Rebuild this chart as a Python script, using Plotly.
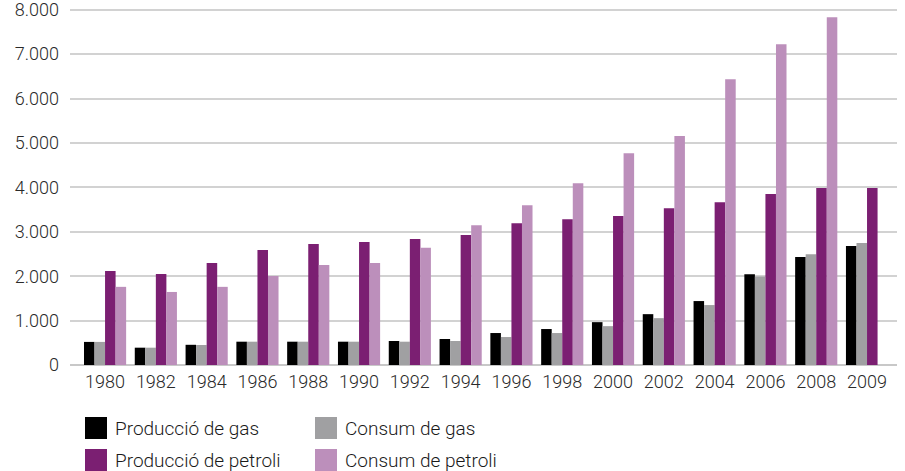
import plotly.graph_objects as go

years = ["1980", "1982", "1984", "1986", "1988", "1990", "1992", "1994",
         "1996", "1998", "2000", "2002", "2004", "2006", "2008", "2009"]
prod_gas = [520, 390, 455, 525, 525, 525, 540, 585, 720, 810, 965, 1145, 1440, 2045, 2430, 2680]
cons_gas = [520, 390, 450, 525, 525, 525, 525, 540, 630, 720, 875, 1055, 1350, 1995, 2495, 2745]
prod_pet = [2115, 2050, 2295, 2590, 2725, 2770, 2835, 2925, 3195, 3285, 3355, 3530, 3665, 3850, 3985, 3985]
cons_pet = [1760, 1645, 1760, 2005, 2250, 2295, 2640, 3150, 3600, 4095, 4770, 5155, 6435, 7225, 7830, None]

names = ["Producció de gas", "Consum de gas", "Producció de petroli", "Consum de petroli"]
colors = ["#000000", "#a0a0a2", "#7b1f72", "#bc8fbb"]
series = [prod_gas, cons_gas, prod_pet, cons_pet]

W, H = 905, 471
ML, MR, MT, MB = 70, 8, 8, 106
PW, PH = W - ML - MR, H - MT - MB
YMAX = 8040  # so that 8.000 sits ~2px below the top edge

fig = go.Figure()
for n, c, s in zip(names, colors, series):
    fig.add_trace(go.Bar(x=years, y=s, name=n, marker=dict(color=c, line=dict(width=0)),
                         showlegend=False))

def px2paper_x(px):
    return (px - ML) / PW

def px2paper_y(py):
    return 1 - (py - MT) / PH

font = "Roboto, Inter, Arial, sans-serif"
# manual legend (2 columns x 2 rows)
legend_pos = [(85, 428), (315, 428), (85, 460), (315, 460)]
for (lx, ly), n, c in zip(legend_pos, names, colors):
    fig.add_shape(type="rect", xref="paper", yref="paper",
                  x0=px2paper_x(lx), x1=px2paper_x(lx + 22),
                  y0=px2paper_y(ly - 11), y1=px2paper_y(ly + 11),
                  fillcolor=c, line=dict(width=0))
    fig.add_annotation(xref="paper", yref="paper", x=px2paper_x(lx + 28), y=px2paper_y(ly),
                       xanchor="left", yanchor="middle", text=n, showarrow=False,
                       font=dict(family=font, size=19, color="#1a1a1a", weight=300))

fig.update_layout(
    width=W, height=H,
    margin=dict(l=ML, r=MR, t=MT, b=MB, autoexpand=False),
    barmode="group", bargap=0.17, bargroupgap=0,
    plot_bgcolor="white", paper_bgcolor="white",
    separators=",.",
    font=dict(family=font, size=18, color="#333333", weight=300),
    xaxis=dict(type="category", range=[-0.69, 15.59], showgrid=False, showline=False,
               ticks="", automargin=False, ticklabelstandoff=4,
               tickfont=dict(size=18, color="#2a2a2a", weight=300)),
    yaxis=dict(range=[0, YMAX], tickvals=[0, 1000, 2000, 3000, 4000, 5000, 6000, 7000, 8000],
               tickformat=",d", showgrid=True, automargin=False, ticklabeloverflow="allow",
               gridcolor="#d2d2d2", gridwidth=2, zeroline=True, zerolinecolor="#c8c8c8",
               zerolinewidth=2, showline=False, ticks="", ticklabelstandoff=10,
               tickfont=dict(size=18, color="#2a2a2a", weight=300)),
)

fig.write_html("out.html", config={"displayModeBar": False},
               post_script="document.body.style.margin='0';document.body.style.overflow='hidden';")
